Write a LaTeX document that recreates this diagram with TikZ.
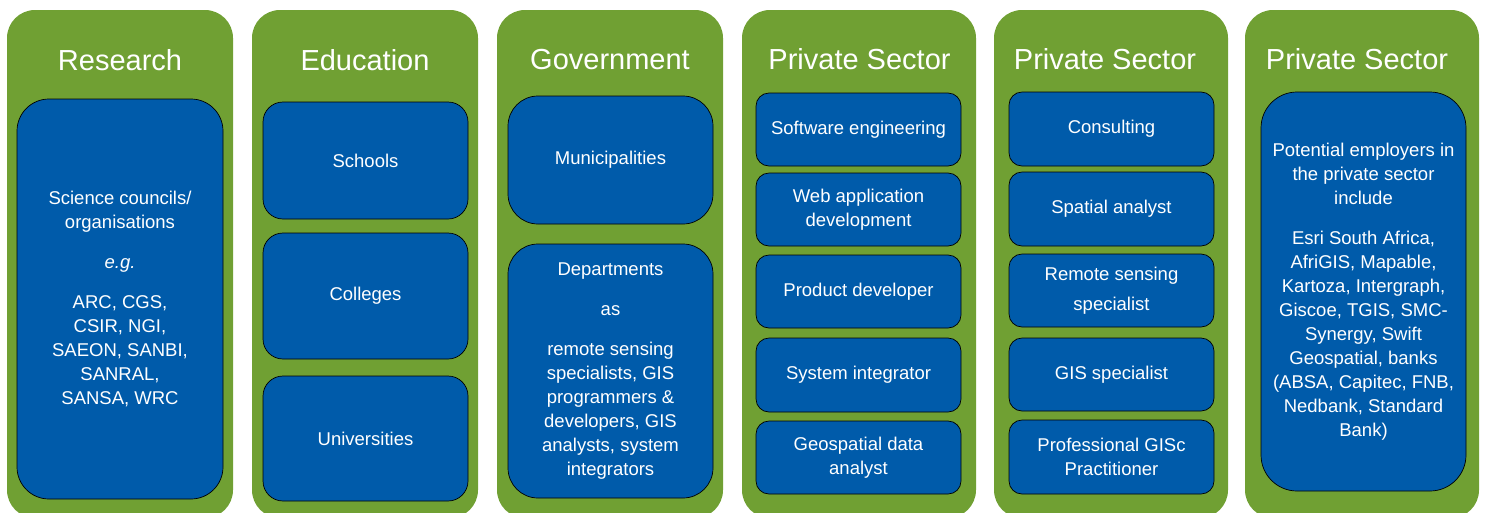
\documentclass[tikz,border=0pt]{standalone}
\usepackage{fontspec}
\setmainfont{Liberation Sans}
\usepackage{xcolor}
\definecolor{colgreen}{HTML}{70A033}
\definecolor{jobblue}{HTML}{005BAA}
\usepackage{tikz}

\begin{document}
\begin{tikzpicture}[
			x = 1pt, y = -1pt, % pixel coordinates
			column/.style = {fill=colgreen, rounded corners=28pt, inner sep=0pt, minimum height=508pt}, % green sector column
			title/.style = {text=white, font=\fontsize{29}{34}\selectfont}, % column heading
			job/.style = {draw=black, line width=0.7pt, fill=jobblue, text=white, align=center,
				inner sep=0pt, minimum width=205pt, font=\fontsize{18.5}{24}\selectfont},
		]
		\useasboundingbox (0,0) rectangle (1486,512);
		% columns
		\node[column, minimum width=226pt] (colA) at (120,264){};
		\node[column, minimum width=226pt] (colB) at (365,264){};
		\node[column, minimum width=226pt] (colC) at (610,264){};
		\node[column, minimum width=234pt] (colD) at (859,264){};
		\node[column, minimum width=234pt] (colE) at (1111,264){};
		\node[column, minimum width=234pt] (colF) at (1362,264){};
		% headings
		\node[title] (tA) at (120,60){Research};
		\node[title] (tB) at (365,60){Education};
		\node[title] (tC) at (610,60){Government};
		\node[title] (tD) at (859.5,59){Private Sector};
		\node[title] (tE) at (1105,59){Private Sector};
		\node[title] (tF) at (1357,59){Private Sector};
		% research
		\node[job, minimum width=206pt, minimum height=400pt, rounded corners=32pt] (sci) at (120,299)
			{Science councils/\\organisations\\[16pt]\textit{e.g.}\\[16pt]ARC, CGS,\\CSIR, NGI,\\SAEON, SANBI,\\SANRAL,\\SANSA, WRC};
		% education
		\node[job, minimum height=117pt, rounded corners=20pt] (sch) at (365.5,160.5){Schools};
		\node[job, minimum height=126pt, rounded corners=20pt] (col) at (365.5,296){Colleges};
		\node[job, minimum height=125pt, rounded corners=20pt] (uni) at (365.5,438.5){Universities};
		% government
		\node[job, minimum height=128pt, rounded corners=30pt] (mun) at (610.5,160){Municipalities};
		\node[job, minimum height=254pt, rounded corners=30pt] (dep) at (610.5,371)
			{Departments\\[16pt]as\\[16pt]remote sensing\\specialists, GIS\\programmers \&\\developers, GIS\\analysts, system\\integrators};
		% private sector 1
		\node[job, minimum height=73pt, rounded corners=13pt] (sw) at (858.5,129.5){Software engineering};
		\node[job, minimum height=73pt, rounded corners=13pt] (web) at (858.5,209.5){Web application\\development};
		\node[job, minimum height=73pt, rounded corners=13pt] (prod) at (858.5,291.5){Product developer};
		\node[job, minimum height=74pt, rounded corners=13pt] (sys) at (858.5,375){System integrator};
		\node[job, minimum height=73pt, rounded corners=13pt] (geo) at (858.5,457.5){Geospatial data\\analyst};
		% private sector 2
		\node[job, minimum height=74pt, rounded corners=13pt] (cons) at (1111.5,129){Consulting};
		\node[job, minimum height=74pt, rounded corners=13pt] (spa) at (1111.5,209){Spatial analyst};
		\node[job, minimum height=73pt, rounded corners=13pt] (rs) at (1111.5,290.5){Remote sensing\\[6pt]specialist};
		\node[job, minimum height=73pt, rounded corners=13pt] (gis) at (1111.5,374.5){GIS specialist};
		\node[job, minimum height=74pt, rounded corners=13pt] (prof) at (1111.5,457){Professional GISc\\Practitioner};
		% private sector 3
		\node[job, minimum height=399pt, rounded corners=36pt] (emp) at (1363.5,291.5)
			{Potential employers in\\the private sector\\include\\[16pt]Esri South Africa,\\AfriGIS, Mapable,\\Kartoza, Intergraph,\\Giscoe, TGIS, SMC-\\Synergy, Swift\\Geospatial, banks\\(ABSA, Capitec, FNB,\\Nedbank, Standard\\Bank)};
		\end{tikzpicture}
\end{document}
